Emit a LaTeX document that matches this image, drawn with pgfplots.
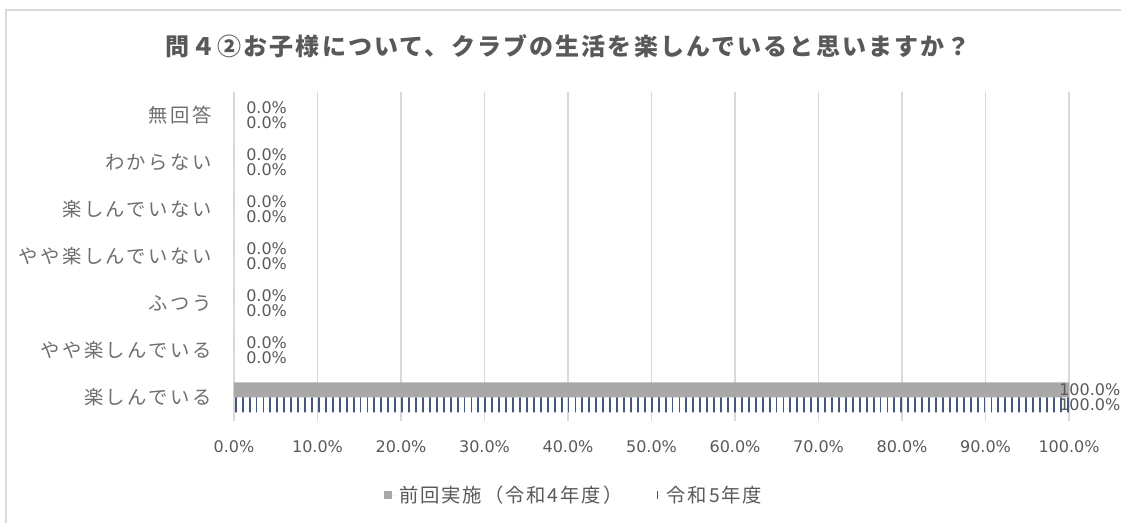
\documentclass[border=0pt]{standalone}
\usepackage{fontspec}
\setmainfont{Noto Sans CJK JP}
\newfontfamily\numfont{DejaVu Sans}
\usepackage{pgfplots}
\pgfplotsset{compat=1.18}
\usetikzlibrary{patterns.meta}
\definecolor{txt}{HTML}{595959}
\definecolor{cat}{HTML}{6E6E6E}
\definecolor{gridc}{HTML}{D9D9D9}
\definecolor{bargray}{HTML}{A8A8A8}
\definecolor{navy}{HTML}{46577F}
\begin{document}
\begin{tikzpicture}
\path[use as bounding box] (0,0) rectangle (840.75pt,392.25pt);
\draw[gridc, line width=1.2pt] (4.5pt,0) -- (4.5pt,384.75pt) -- (840.75pt,384.75pt);
\node[text=txt, font=\fontsize{18}{20}\selectfont\bfseries\addfontfeature{LetterSpace=9}] at (426pt,357.75pt) {問４②お子様について、クラブの生活を楽しんでいると思いますか？};
\begin{axis}[
  at={(175.5pt,76.5pt)}, anchor=south west,
  width=626.25pt, height=246.75pt, scale only axis,
  xbar, bar width=11.25pt,
  xmin=0, xmax=100, ymin=-0.5, ymax=6.5,
  xtick={0,10,...,100},
  ytick={0,...,6},
  yticklabels={楽しんでいる,やや楽しんでいる,ふつう,やや楽しんでいない,楽しんでいない,わからない,無回答},
  xmajorgrids, major grid style={gridc, line width=1.1pt},
  axis line style={draw=none},
  major tick length=0pt,
  /pgf/number format/assume math mode=true,
  xticklabel={\pgfmathprintnumber[fixed,fixed zerofill,precision=1]{\tick}\%},
  xticklabel style={anchor=center, yshift=-19.5pt, text=txt, font=\numfont\fontsize{12}{14}\selectfont},
  yticklabel style={anchor=east, inner sep=0pt, xshift=-16.5pt, text=cat, font=\fontsize{14.5}{16}\selectfont\addfontfeature{LetterSpace=13}},
  point meta=x,
  nodes near coords={\pgfmathprintnumber[fixed,fixed zerofill,precision=1]{\pgfplotspointmeta}\%},
  every node near coord/.append style={anchor=west, inner sep=0pt, xshift=9pt, text=txt, font=\numfont\fontsize{12}{13}\selectfont},
  coordinate style/.condition={x>50}{xshift=-16.5pt},
  legend style={at={(0.408,-0.225)}, anchor=center, draw=none, fill=none,
    legend columns=2, font=\fontsize{14.5}{16}\selectfont\addfontfeature{LetterSpace=10}, text=txt,
    /tikz/every even column/.append style={column sep=22pt}},
]
\addplot[draw=none, fill=bargray, bar shift=5.625pt,
  legend image code/.code={\fill[bargray] (0pt,-3pt) rectangle (6pt,3pt); \path (0pt,0pt) -- (9pt,0pt);}]
  coordinates {(100,0) (0,1) (0,2) (0,3) (0,4) (0,5) (0,6)};
\addlegendentry{前回実施（令和4年度）}
\addplot[draw=none, pattern={Lines[angle=90,distance=5.2pt,line width=1.4pt]}, pattern color=navy, bar shift=-5.625pt,
  legend image code/.code={\draw[navy, line width=0.8pt] (2pt,-3pt) -- (2pt,3pt); \path (0pt,0pt) -- (7pt,0pt);}]
  coordinates {(100,0) (0,1) (0,2) (0,3) (0,4) (0,5) (0,6)};
\addlegendentry{令和5年度}
\end{axis}
\end{tikzpicture}
\end{document}
